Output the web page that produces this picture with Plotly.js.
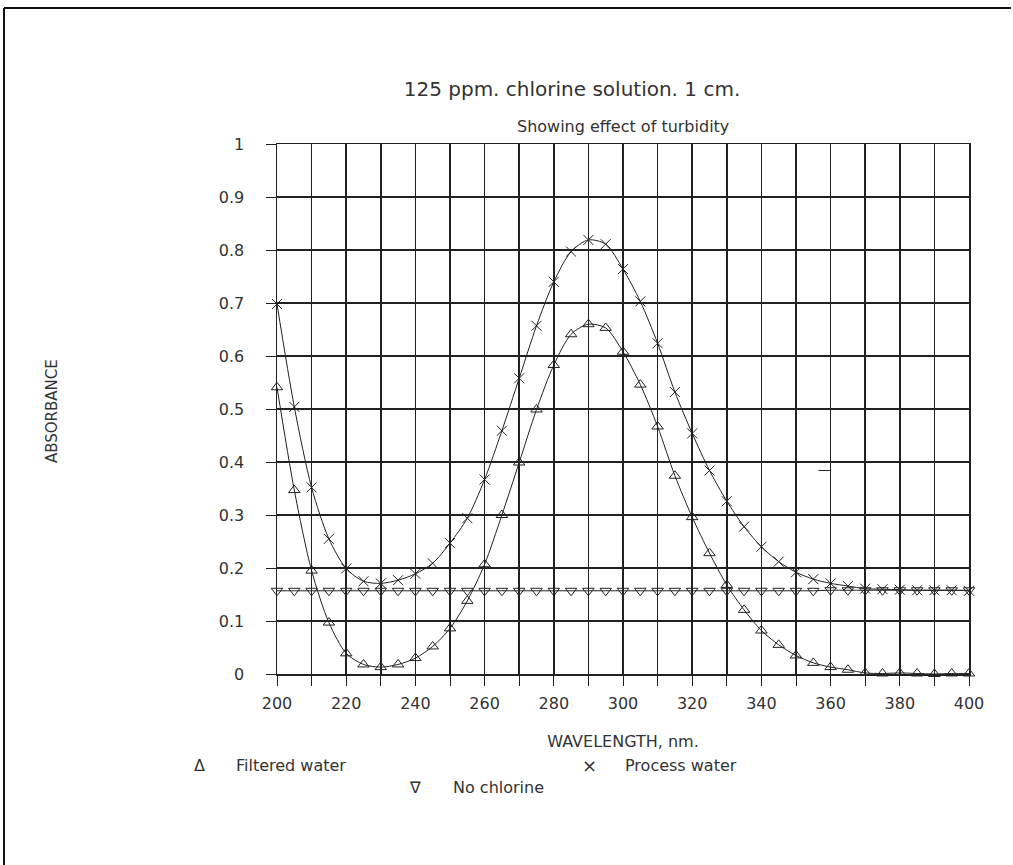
<!DOCTYPE html>
<html>
<head>
<meta charset="utf-8">
<script src="https://cdn.plot.ly/plotly-3.0.1.min.js"></script>
<style>
  html, body { margin: 0; padding: 0; background: #fff; }
  #chart { width: 1013px; height: 865px; }
</style>
</head>
<body>
<div id="chart"></div>
<script>
// ---- data ----
const wavelength = [200,205,210,215,220,225,230,235,240,245,
                    250,255,260,265,270,275,280,285,290,295,
                    300,305,310,315,320,325,330,335,340,345,
                    350,355,360,365,370,375,380,385,390,395,400];

const filteredWater = [0.541,0.347,0.195,0.097,0.039,0.018,0.013,0.018,0.030,0.052,
                       0.086,0.138,0.207,0.300,0.399,0.499,0.583,0.641,0.660,0.653,
                       0.608,0.546,0.467,0.374,0.296,0.228,0.168,0.121,0.082,0.055,
                       0.035,0.021,0.013,0.008,0.002,0.001,0.002,0.001,0.000,0.001,0.001];

const processWater = [0.698,0.504,0.352,0.255,0.199,0.175,0.171,0.177,0.189,0.209,
                      0.247,0.294,0.367,0.459,0.558,0.657,0.740,0.797,0.819,0.811,
                      0.764,0.703,0.624,0.532,0.454,0.384,0.326,0.278,0.240,0.212,
                      0.192,0.179,0.171,0.166,0.161,0.160,0.159,0.158,0.158,0.158,0.157];

const noChlorine = [0.157,0.157,0.157,0.157,0.157,0.157,0.157,0.157,0.157,0.157,
                    0.157,0.157,0.157,0.157,0.157,0.157,0.157,0.157,0.157,0.157,
                    0.157,0.157,0.157,0.157,0.157,0.157,0.157,0.157,0.157,0.157,
                    0.157,0.157,0.158,0.158,0.158,0.158,0.158,0.158,0.158,0.158,0.158];

const seriesNames = ["Filtered water", "Process water", "No chlorine"];
const titleText = "125 ppm. chlorine solution. 1 cm.";
const subtitleText = "Showing effect of turbidity";
const xTitle = "WAVELENGTH, nm.";
const yTitle = "ABSORBANCE";

// ---- layout helpers (pixel -> paper) ----
const L = 277, R = 969, T = 144, B = 674, W = 1013, H = 865;
const px = v => (v - L) / (R - L);
const py = v => (B - v) / (B - T);

const ink = "#222";
const font = "DejaVu Sans, sans-serif";

function series(y, name, symbol, size) {
  return {
    x: wavelength, y: y, name: name, type: "scatter", mode: "lines+markers",
    line: { color: ink, width: 1, shape: "spline", smoothing: 0.8 },
    marker: { symbol: symbol, size: size, color: ink, line: { color: ink, width: 1 } },
    cliponaxis: false, showlegend: false
  };
}

const traces = [
  series(noChlorine, seriesNames[2], "triangle-down-open", 10),
  series(filteredWater, seriesNames[0], "triangle-up-open", 10),
  series(processWater, seriesNames[1], "x-thin-open", 10)
];

const txt = (x, y, text, anchor, size) => ({
  xref: "paper", yref: "paper", x: px(x), y: py(y), text: text,
  xanchor: anchor, yanchor: "middle", showarrow: false,
  font: { family: font, size: size, color: "#333" }
});

const layout = {
  width: W, height: H,
  margin: { l: L, r: W - R, t: T, b: H - B, pad: 0 },
  paper_bgcolor: "#fff", plot_bgcolor: "#fff",
  font: { family: font, size: 16, color: "#333" },
  title: {
    text: titleText, xref: "paper", x: px(572), xanchor: "center",
    yref: "container", y: 1 - 89 / H, yanchor: "middle",
    font: { family: font, size: 20, color: "#333" }
  },
  xaxis: {
    range: [200, 400], dtick: 20, tick0: 200,
    showgrid: true, gridcolor: ink, gridwidth: 1.5,
    minor: { dtick: 10, showgrid: true, gridcolor: ink, gridwidth: 1.5, ticks: "outside", ticklen: 10, tickcolor: ink },
    ticks: "outside", ticklen: 10, tickcolor: ink, tickwidth: 1,
    showline: true, mirror: true, linecolor: ink, linewidth: 1.5,
    zeroline: false, ticklabelstandoff: 4,
    tickfont: { family: font, size: 16, color: "#333" },
    title: { text: xTitle, standoff: 24, font: { family: font, size: 16, color: "#333" } }
  },
  yaxis: {
    range: [0, 1], dtick: 0.1, tick0: 0,
    showgrid: true, gridcolor: ink, gridwidth: 1.5,
    ticks: "outside", ticklen: 10, tickcolor: ink, tickwidth: 1,
    showline: true, mirror: true, linecolor: ink, linewidth: 1.5,
    zeroline: false, ticklabelstandoff: 18,
    tickfont: { family: font, size: 16, color: "#333" }
  },
  annotations: [
    txt(623, 126, subtitleText, "center", 16),
    Object.assign(txt(52, 411, yTitle, "center", 15), { textangle: -90 }),
    txt(199, 765, "Δ", "center", 16),
    txt(234, 765, seriesNames[0], "left", 16),
    txt(589, 765, "×", "center", 18),
    txt(623, 765, seriesNames[1], "left", 16),
    txt(415, 787, "∇", "center", 16),
    txt(451, 787, seriesNames[2], "left", 16)
  ],
  shapes: [
    { type: "line", xref: "paper", yref: "paper", x0: px(4), x1: px(1011), y0: py(8), y1: py(8), line: { color: "#111", width: 2 } },
    { type: "line", xref: "paper", yref: "paper", x0: px(4), x1: px(4), y0: py(8), y1: py(865), line: { color: "#111", width: 2 } },
    { type: "line", xref: "x", yref: "y", x0: 356.5, x1: 360, y0: 0.384, y1: 0.384, line: { color: ink, width: 1 } }
  ]
};

Plotly.newPlot("chart", traces, layout, { displayModeBar: false, staticPlot: true });
</script>
</body>
</html>
